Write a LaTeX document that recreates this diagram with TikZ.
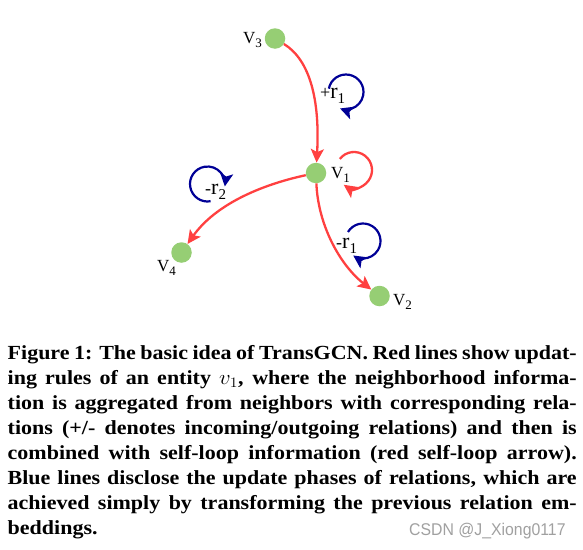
\documentclass[tikz,border=0pt]{standalone}
\usepackage{fontspec}
\usepackage{graphicx}
\setmainfont{Liberation Serif}
\newfontfamily\wmfont{Liberation Sans}
\usetikzlibrary{arrows.meta}
\definecolor{nodegreen}{RGB}{150,206,116}
\definecolor{edgered}{RGB}{255,64,64}
\definecolor{loopblue}{RGB}{0,0,150}
\definecolor{wmgray}{RGB}{160,160,160}
\newcommand{\entlab}[1]{V\raisebox{-4pt}{\fontsize{13}{13}\selectfont #1}}
\newcommand{\rellab}[2]{{\fontsize{18}{18}\selectfont #1}{\fontsize{22}{22}\selectfont r}\raisebox{-5pt}{\fontsize{15}{15}\selectfont #2}}
\newcommand{\capfill}[1]{\scalebox{1.1}[1]{\makebox[517.3pt][s]{#1}}}
\begin{document}
\begin{tikzpicture}[x=1pt,y=-1pt,
  ent/.style={circle,fill=nodegreen,minimum size=20.5pt,inner sep=0pt},
  redarr/.style={draw=edgered,line width=2.3pt,-{Stealth[length=13.5pt,width=13pt,inset=3pt]}},
  bluearr/.style={draw=loopblue,line width=2.2pt,-{Stealth[length=13pt,width=13pt,inset=3pt]}},
  vlab/.style={anchor=base west,inner sep=0pt,font=\fontsize{17}{17}\selectfont},
  rlab/.style={anchor=base west,inner sep=0pt},
  capline/.style={anchor=base west,inner sep=0pt,font=\bfseries\fontsize{20}{25}\selectfont},
  wmark/.style={anchor=base west,inner sep=0pt,text=wmgray,font=\wmfont\fontsize{17}{17}\selectfont}]
\useasboundingbox (0,0) rectangle (583,549);
% entities
\node[ent] (v3) at (275,38.5) {};
\node[ent] (v1) at (316,173) {};
\node[ent] (v4) at (181.5,252.5) {};
\node[ent] (v2) at (379.5,296) {};
\node[vlab] (l3) at (243,43) {\entlab{3}};
\node[vlab] (l1) at (331,178) {\entlab{1}};
\node[vlab] (l4) at (157,271) {\entlab{4}};
\node[vlab] (l2) at (393,305) {\entlab{2}};
% red edges
\draw[redarr] (v3) .. controls (310,60) and (320,100) .. (v1);
\draw[redarr] (v1) .. controls (260,185) and (215,205) .. (v4);
\draw[redarr] (v1) .. controls (318,225) and (340,265) .. (v2);
\coordinate (selfc) at (354,170);
\draw[redarr] ([shift={(-142:18)}]selfc) arc[start angle=-142,end angle=125,radius=18];
% blue relation loops
\coordinate (rp1) at (346,92);
\coordinate (rm2) at (207.5,184);
\coordinate (rm1) at (363,241);
\draw[bluearr] ([shift={(-169:17.5)}]rp1) arc[start angle=-169,end angle=110,radius=17.5];
\draw[bluearr] ([shift={(80:17.5)}]rm2) arc[start angle=80,end angle=368,radius=17.5];
\draw[bluearr] ([shift={(-149:17.5)}]rm1) arc[start angle=-149,end angle=124,radius=17.5];
\node[rlab] (tp1) at (320,98) {\rellab{+}{1}};
\node[rlab] (tm2) at (205,194) {\rellab{-}{2}};
\node[rlab] (tm1) at (336,248) {\rellab{-}{1}};
% caption
\node[capline] (c1) at (7.5,359) {\capfill{Figure 1: The basic idea of TransGCN. Red lines show updat-}};
\node[capline] (c2) at (7.5,384.1) {\capfill{ing rules of an entity $v_1$, where the neighborhood informa-}};
\node[capline] (c3) at (7.5,409.2) {\capfill{tion is aggregated from neighbors with corresponding rela-}};
\node[capline] (c4) at (7.5,434.3) {\capfill{tions (+/- denotes incoming/outgoing relations) and then is}};
\node[capline] (c5) at (7.5,459.4) {\capfill{combined with self-loop information (red self-loop arrow).}};
\node[capline] (c6) at (7.5,484.5) {\capfill{Blue lines disclose the update phases of relations, which are}};
\node[capline] (c7) at (7.5,509.6) {\capfill{achieved simply by transforming the previous relation em-}};
\node[capline] (c8) at (7.5,534.7) {\scalebox{1.1}[1]{beddings.}};
\node[wmark] (wm) at (409,535) {\scalebox{0.93}[1]{CSDN @J\_Xiong0117}};
\end{tikzpicture}
\end{document}
